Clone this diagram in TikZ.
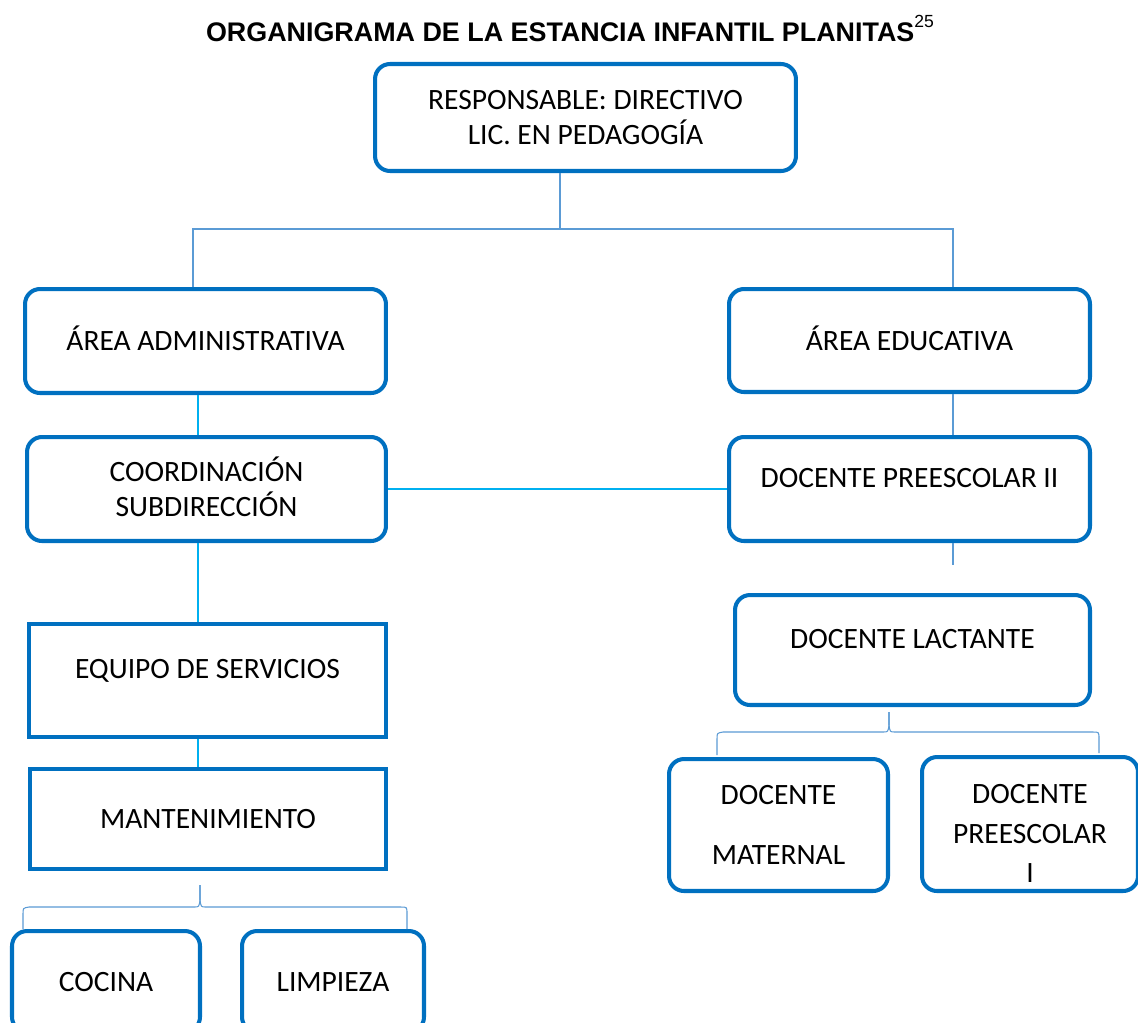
\documentclass[tikz,border=0pt]{standalone}
\usepackage{fontspec}
\usepackage{tikz}
\setmainfont{Carlito}
\newfontfamily\titlefont{Liberation Sans}
\definecolor{boxblue}{RGB}{0,112,192}
\definecolor{linkblue}{RGB}{91,155,213}
\definecolor{linkcyan}{RGB}{0,176,240}

\begin{document}
\begin{tikzpicture}[x=0.02cm, y=-0.02cm,
  box/.style={draw=boxblue, line width=2.3pt, rounded corners=0.3cm, align=center, inner sep=0pt,
    text height=11pt, text depth=0pt, font=\fontsize{16.8}{20}\selectfont},
  sqbox/.style={box, sharp corners},
  link/.style={draw=linkblue, line width=0.6pt},
  linkc/.style={draw=linkcyan, line width=0.6pt}]
\useasboundingbox (0,0) rectangle (1138,1022);
\clip (0,0) rectangle (1138,1022);
\fill[white] (0,0) rectangle (1138,1022);

\node[anchor=base, font=\titlefont\fontsize{15.3}{18}\selectfont\bfseries] (title) at (570,41) {ORGANIGRAMA DE LA ESTANCIA INFANTIL PLANITAS\raisebox{7.5pt}{\mdseries\fontsize{10}{11}\selectfont 25}};

% boxes
\node[box, minimum width=8.42cm, minimum height=2.14cm, text height=31pt] (resp) at (585.5,117.5) {RESPONSABLE: DIRECTIVO\\LIC. EN PEDAGOGÍA};
\node[box, minimum width=7.22cm, minimum height=2.08cm] (adm) at (205.5,341) {ÁREA ADMINISTRATIVA};
\node[box, minimum width=7.22cm, minimum height=2.06cm] (edu) at (909.5,340.5) {ÁREA EDUCATIVA};
\node[box, minimum width=7.18cm, minimum height=2.08cm, text height=31pt] (coord) at (206.5,489) {COORDINACIÓN\\SUBDIRECCIÓN};
\node[box, minimum width=7.22cm, minimum height=2.08cm, text depth=13pt] (pre2) at (909.5,489) {DOCENTE PREESCOLAR II};
\node[box, minimum width=7.10cm, minimum height=2.20cm, text depth=13pt] (lact) at (912.5,650) {DOCENTE LACTANTE};
\node[sqbox, minimum width=7.14cm, minimum height=2.26cm, text depth=13pt] (serv) at (207.5,680.5) {EQUIPO DE SERVICIOS};
\node[sqbox, minimum width=7.12cm, minimum height=2.00cm] (mant) at (208,819) {MANTENIMIENTO};
\node[box, minimum width=3.76cm, minimum height=2.02cm] (coc) at (106,981.5) {COCINA};
\node[box, minimum width=3.64cm, minimum height=2.02cm] (limp) at (333,981.5) {LIMPIEZA};
\node[box, minimum width=4.38cm, minimum height=2.64cm, font=\fontsize{16.8}{34}\selectfont, text height=45pt] (mat) at (778.5,825) {DOCENTE\\MATERNAL};
\node[box, minimum width=4.32cm, minimum height=2.68cm, font=\fontsize{16.8}{22.5}\selectfont, text height=67pt] (pre1) at (1030,824) {DOCENTE\\PREESCOLAR\\I};

% connectors
\coordinate (j0) at (560,229);
\coordinate (jl) at (193,229);
\coordinate (jr) at (953,229);
\coordinate (xl) at (198,0);
\coordinate (stub) at (953,565);
\draw[link] (resp.south -| j0) -- (j0);
\draw[link] (adm.north -| jl) -- (jl) -- (jr) -- (edu.north -| jr);
\draw[linkc] (adm.south -| xl) -- (coord.north -| xl);
\draw[linkc] (coord.south -| xl) -- (serv.north -| xl);
\draw[linkc] (serv.south -| xl) -- (mant.north -| xl);
\draw[linkc] (coord.east) -- (pre2.west);
\draw[link] (edu.south -| jr) -- (pre2.north -| jr);
\draw[link] (pre2.south -| stub) -- (stub);

% braces
\coordinate (bt1) at (200,885);
\coordinate (bl1) at (23,929);
\coordinate (br1) at (407,929);
\draw[link] (bl1) -- (23,914) .. controls (23,908) .. (29,907) -- (194,907) .. controls (199,907) .. (200,900) -- (bt1);
\draw[link] (bt1) -- (200,900) .. controls (201,907) .. (206,907) -- (401,907) .. controls (407,907) .. (407,914) -- (br1);
\coordinate (bt2) at (889,712);
\coordinate (bl2) at (717,755);
\coordinate (br2) at (1099,753);
\draw[link] (bl2) -- (717,739) .. controls (717,733) .. (723,732) -- (883,732) .. controls (888,732) .. (889,725) -- (bt2);
\draw[link] (bt2) -- (889,725) .. controls (890,732) .. (895,732) -- (1093,732) .. controls (1099,732) .. (1099,739) -- (br2);
\end{tikzpicture}
\end{document}
